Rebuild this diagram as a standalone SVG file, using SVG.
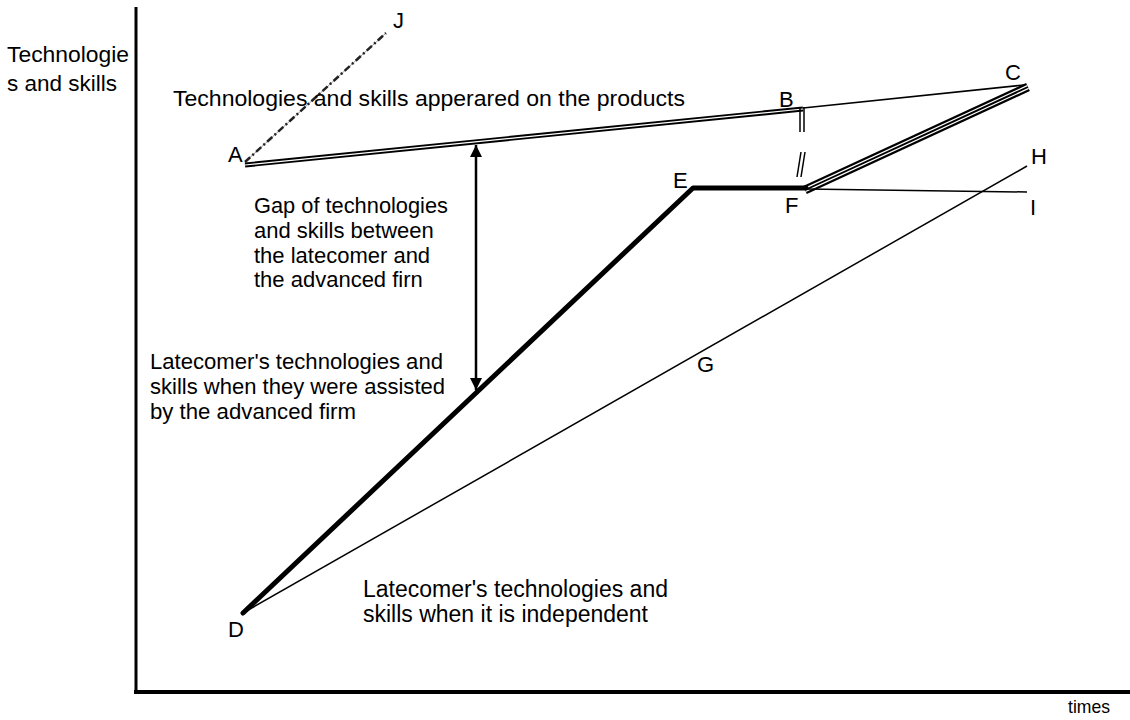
<svg xmlns="http://www.w3.org/2000/svg" width="1130" height="720" viewBox="0 0 1130 720">
<style>
text{font-family:"Liberation Sans",Arial,sans-serif;font-size:22px;fill:#000}
.big{font-size:23px}
.thin{stroke:#000;stroke-width:1.5;fill:none}
.thick{stroke:#000;stroke-width:5;fill:none;stroke-linecap:round;stroke-linejoin:round}
.dbl{stroke:#000;stroke-width:5;fill:none}
.gap{stroke:#fff;stroke-width:1.2;fill:none}
</style>
<defs>
<marker id="ah" viewBox="0 0 10 10" refX="10" refY="5" markerWidth="14" markerHeight="12" markerUnits="userSpaceOnUse" orient="auto-start-reverse">
<path d="M0,0 L10,5 L0,10 z" fill="#000"/>
</marker>
</defs>
<g id="axes">
<line x1="136" y1="7" x2="136" y2="694" stroke="#000" stroke-width="3"/>
<line x1="134" y1="692" x2="1130" y2="692" stroke="#000" stroke-width="4"/>
<text x="7" y="62" textLength="122" lengthAdjust="spacingAndGlyphs">Technologie</text>
<text x="7" y="91" textLength="110" lengthAdjust="spacingAndGlyphs">s and skills</text>
<text x="1068" y="713" style="font-size:19px" textLength="42" lengthAdjust="spacingAndGlyphs">times</text>
</g>
<g id="connectors">
<line x1="245" y1="162" x2="386" y2="33" stroke="#999" stroke-width="1"/>
<line x1="245" y1="162" x2="386" y2="33" stroke="#222" stroke-width="2.5" stroke-dasharray="7 3 2 3"/>
<line class="dbl" x1="245" y1="165" x2="803" y2="109"/>
<line class="gap" x1="245" y1="165" x2="803" y2="109"/>
<line class="thin" x1="803" y1="108" x2="1024" y2="85"/>
<line class="thin" stroke-width="2" x1="800" y1="107" x2="800" y2="132"/>
<line class="thin" stroke-width="2" x1="804" y1="107" x2="804" y2="132"/>
<line class="thin" stroke-width="2" x1="797" y1="177" x2="801" y2="152"/>
<line class="thin" stroke-width="2" x1="801" y1="177" x2="805" y2="152"/>
<line stroke="#000" stroke-width="9" x1="805" y1="190" x2="1028" y2="87"/>
<line class="gap" x1="805.7" y1="191.4" x2="1028.7" y2="88.4"/>
<line class="gap" x1="804.3" y1="188.6" x2="1027.3" y2="85.6"/>
<polyline class="thick" points="243,613 693,188 806,188"/>
<line class="thin" x1="806" y1="189" x2="1027" y2="192"/>
<line class="thin" x1="243" y1="613" x2="1027" y2="166"/>
<line x1="476" y1="145" x2="476" y2="390" stroke="#000" stroke-width="2.5" marker-start="url(#ah)" marker-end="url(#ah)"/>
</g>
<g id="labels">
<text x="173" y="106" textLength="512" lengthAdjust="spacingAndGlyphs">Technologies and skills apperared on the products</text>
<text x="228" y="162">A</text>
<text x="779" y="107">B</text>
<text x="1005" y="80">C</text>
<text x="228" y="637">D</text>
<text x="673" y="188">E</text>
<text x="785" y="213">F</text>
<text x="697" y="372">G</text>
<text x="1031" y="164">H</text>
<text x="1030" y="215">I</text>
<text x="393" y="28">J</text>
</g>
<g id="gap-label">
<text x="254" y="213" textLength="194" lengthAdjust="spacingAndGlyphs">Gap of technologies</text>
<text x="254" y="238">and skills between</text>
<text x="254" y="263">the latecomer and</text>
<text x="254" y="287">the advanced firn</text>
</g>
<g id="assisted-label">
<text x="150" y="369" textLength="293" lengthAdjust="spacingAndGlyphs">Latecomer's technologies and</text>
<text x="150" y="394" textLength="295" lengthAdjust="spacingAndGlyphs">skills when they were assisted</text>
<text x="150" y="419" textLength="206" lengthAdjust="spacingAndGlyphs">by the advanced firm</text>
</g>
<g id="independent-label">
<text class="big" x="363" y="597" textLength="305" lengthAdjust="spacingAndGlyphs">Latecomer's technologies and</text>
<text class="big" x="363" y="622" textLength="285" lengthAdjust="spacingAndGlyphs">skills when it is independent</text>
</g>
</svg>
